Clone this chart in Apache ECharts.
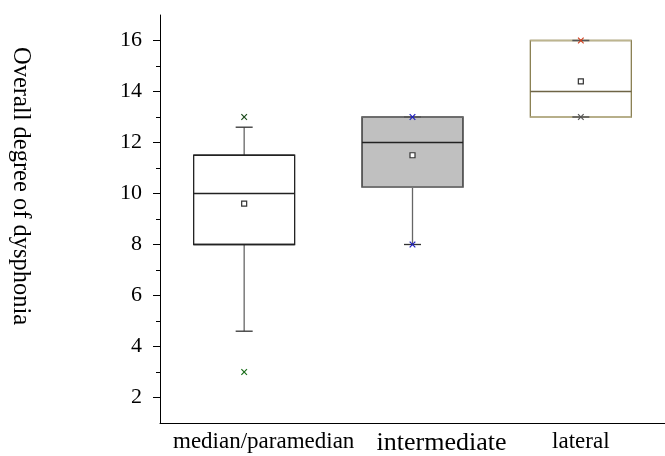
<!DOCTYPE html>
<html><head><meta charset="utf-8">
<script src="https://cdn.jsdelivr.net/npm/echarts@6/dist/echarts.min.js"></script>
<style>html,body{margin:0;padding:0;background:#fff}#c{width:665px;height:456px}</style>
</head><body><div id="c"></div>
<script>
var categories = ['median/paramedian', 'intermediate', 'lateral'];
var q1 = [8, 10.25, 13];
var median = [10, 12, 14];
var q3 = [11.5, 13, 16];
var whiskerLow = [4.6, 8, 13];
var whiskerHigh = [12.6, 13, 16];
var mean = [9.6, 11.5, 14.4];
var markerMin = [3, 8, 13];
var markerMax = [13, 13, 16];
var yTickLabels = [2, 4, 6, 8, 10, 12, 14, 16];
var yMinorTicks = [3, 5, 7, 9, 11, 13, 15];

var boxFill = ['#ffffff', '#c0c0c0', '#ffffff'];
var boxStroke = ['#222222', '#222222', '#8a7f52'];
var edgeStroke = ['#222222', '#777777', '#bdb58f'];
var medianStroke = ['#222222', '#222222', '#6e6446'];
var minColor = ['#1a6e1a', '#2020c0', '#555555'];
var maxColor = ['#1a4a1a', '#2020c0', '#d04020'];
var catFont = [23, 26, 23];
var catShiftPad = [39, 58, 0];

var chart = echarts.init(document.getElementById('c'));
var data = categories.map(function (c, i) {
  return [i, q1[i], median[i], q3[i], whiskerLow[i], whiskerHigh[i], mean[i], markerMin[i], markerMax[i]];
});

function xMark(cx, cy, s, color) {
  return {
    type: 'group', children: [
      { type: 'line', shape: { x1: cx - s, y1: cy - s, x2: cx + s, y2: cy + s }, style: { stroke: color, lineWidth: 1.2 } },
      { type: 'line', shape: { x1: cx - s, y1: cy + s, x2: cx + s, y2: cy - s }, style: { stroke: color, lineWidth: 1.2 } }
    ]
  };
}

function renderItem(params, api) {
  var i = api.value(0);
  var x = api.coord([i, 0])[0];
  var bw = api.size([1, 0])[0] * 0.6;
  var yQ1 = api.coord([i, api.value(1)])[1];
  var yMed = api.coord([i, api.value(2)])[1];
  var yQ3 = api.coord([i, api.value(3)])[1];
  var yWL = api.coord([i, api.value(4)])[1];
  var yWH = api.coord([i, api.value(5)])[1];
  var yMean = api.coord([i, api.value(6)])[1];
  var yMin = api.coord([i, api.value(7)])[1];
  var yMax = api.coord([i, api.value(8)])[1];
  var capW = 8.5;
  var ch = [];
  if (yWL - yQ1 > 0.5) {
    ch.push({ type: 'line', shape: { x1: x, y1: yQ1, x2: x, y2: yWL }, style: { stroke: '#666', lineWidth: 1.3 } });
    ch.push({ type: 'line', shape: { x1: x - capW, y1: yWL, x2: x + capW, y2: yWL }, style: { stroke: '#333', lineWidth: 1.3 } });
  }
  if (yQ3 - yWH > 0.5) {
    ch.push({ type: 'line', shape: { x1: x, y1: yQ3, x2: x, y2: yWH }, style: { stroke: '#666', lineWidth: 1.3 } });
    ch.push({ type: 'line', shape: { x1: x - capW, y1: yWH, x2: x + capW, y2: yWH }, style: { stroke: '#333', lineWidth: 1.3 } });
  }
  ch.push({ type: 'rect', shape: { x: x - bw / 2, y: yQ3, width: bw, height: yQ1 - yQ3 }, style: { fill: boxFill[i], stroke: boxStroke[i], lineWidth: 1.3 } });
  ch.push({ type: 'line', shape: { x1: x - bw / 2, y1: yQ3, x2: x + bw / 2, y2: yQ3 }, style: { stroke: edgeStroke[i], lineWidth: 1.5 } });
  ch.push({ type: 'line', shape: { x1: x - bw / 2, y1: yQ1, x2: x + bw / 2, y2: yQ1 }, style: { stroke: edgeStroke[i], lineWidth: 1.5 } });
  if (i !== 0) {
    if (Math.abs(yWH - yQ3) < 0.5) ch.push({ type: 'line', shape: { x1: x - capW, y1: yWH, x2: x + capW, y2: yWH }, style: { stroke: '#555', lineWidth: 1.5 } });
    if (Math.abs(yWL - yQ1) < 0.5) ch.push({ type: 'line', shape: { x1: x - capW, y1: yWL, x2: x + capW, y2: yWL }, style: { stroke: '#555', lineWidth: 1.5 } });
  }
  ch.push({ type: 'line', shape: { x1: x - bw / 2, y1: yMed, x2: x + bw / 2, y2: yMed }, style: { stroke: medianStroke[i], lineWidth: 1.3 } });
  ch.push({ type: 'rect', shape: { x: x - 2.5, y: yMean - 2.5, width: 5, height: 5 }, style: { fill: '#fff', stroke: '#333', lineWidth: 1.2 } });
  ch.push(xMark(x, yMin, 2.8, minColor[i]));
  ch.push(xMark(x, yMax, 2.8, maxColor[i]));
  return { type: 'group', children: ch };
}

var rich = {};
catFont.forEach(function (f, i) {
  rich['c' + i] = { fontSize: f, fontFamily: 'Liberation Serif', color: '#000', padding: [0, 0, 0, catShiftPad[i]] };
});

chart.setOption({
  animation: false,
  backgroundColor: '#fff',
  grid: { left: 160, top: 15, width: 507, height: 408, containLabel: false },
  xAxis: {
    type: 'category', data: categories, boundaryGap: true,
    axisLine: { lineStyle: { color: '#000', width: 1 } },
    axisTick: { alignWithLabel: true, length: 5, lineStyle: { color: '#555' } },
    axisLabel: {
      interval: 0, color: '#000', fontFamily: 'Liberation Serif', margin: 7,
      formatter: function (v, idx) { return '{c' + idx + '|' + v + '}'; },
      rich: rich
    },
    splitLine: { show: false }
  },
  yAxis: [{
    type: 'value', min: 1, max: 17, interval: 1,
    axisLine: { show: true, lineStyle: { color: '#000', width: 1 } },
    axisTick: { show: true, length: 7, customValues: yTickLabels, lineStyle: { color: '#000' } },
    axisLabel: { show: true, customValues: yTickLabels, color: '#000', fontSize: 22, fontFamily: 'Liberation Serif', margin: 18 },
    splitLine: { show: false }
  }, {
    type: 'value', min: 1, max: 17, interval: 1, position: 'left',
    axisLine: { show: false },
    axisTick: { show: true, length: 4, customValues: yMinorTicks, lineStyle: { color: '#000' } },
    axisLabel: { show: false },
    splitLine: { show: false }
  }],
  graphic: [{
    type: 'text', left: 8, top: 47, rotation: -Math.PI / 2,
    style: { text: 'Overall degree of dysphonia', fontSize: 24.5, fontFamily: 'Liberation Serif', fill: '#000' }
  }],
  series: [{
    type: 'custom', renderItem: renderItem, data: data,
    encode: { x: 0, y: [1, 2, 3, 4, 5, 6, 7, 8] }, clip: false
  }]
});
</script></body></html>
